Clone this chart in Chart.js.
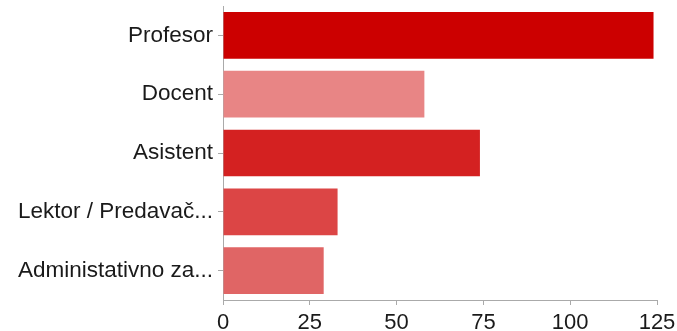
<!DOCTYPE html>
<html>
<head>
<meta charset="utf-8">
<script src="https://cdn.jsdelivr.net/npm/chart.js@4.4.1/dist/chart.umd.min.js"></script>
<style>
  html, body { margin: 0; padding: 0; background: #fff; }
  #wrap { width: 677px; height: 331px; position: relative; }
</style>
</head>
<body>
<div id="wrap"><canvas id="chart"></canvas></div>
<script>
// data
const categories = ['Profesor', 'Docent', 'Asistent', 'Lektor / Predavač...', 'Administativno za...'];
const counts = [124, 58, 74, 33, 29];
const barColors = ['#cc0000', '#e88585', '#d42121', '#dc4545', '#e06565'];
const xTicks = [0, 25, 50, 75, 100, 125];

const ctx = document.getElementById('chart').getContext('2d');

new Chart(ctx, {
  type: 'bar',
  data: {
    labels: categories,
    datasets: [{
      data: counts,
      backgroundColor: barColors,
      borderWidth: 0,
      barPercentage: 0.795,
      categoryPercentage: 1.0
    }]
  },
  options: {
    indexAxis: 'y',
    responsive: true,
    maintainAspectRatio: false,
    animation: false,
    layout: {
      padding: { top: 6, right: 20, left: 0, bottom: 0 }
    },
    plugins: {
      legend: { display: false },
      tooltip: { enabled: false }
    },
    scales: {
      x: {
        min: 0,
        max: 125,
        afterBuildTicks: function(scale) {
          scale.ticks = xTicks.map(v => ({ value: v }));
        },
        afterFit: function(scale) {
          scale.height = 31;
          scale.paddingLeft = 0;
          scale.paddingRight = 0;
        },
        border: { color: '#aaaaaa', width: 1 },
        grid: {
          drawOnChartArea: false,
          drawTicks: true,
          tickLength: 5,
          color: '#aaaaaa'
        },
        ticks: {
          color: '#1a1a1a',
          padding: 5,
          maxRotation: 0,
          font: { family: 'Liberation Sans', size: 22 }
        }
      },
      y: {
        afterFit: function(scale) {
          scale.width = 223;
          scale.paddingTop = 0;
          scale.paddingBottom = 0;
        },
        border: { color: '#aaaaaa', width: 1 },
        grid: {
          offset: false,
          drawOnChartArea: false,
          drawTicks: true,
          tickLength: 5,
          color: '#aaaaaa'
        },
        ticks: {
          color: '#1a1a1a',
          padding: 5,
          autoSkip: false,
          font: { family: 'Liberation Sans', size: 22.5 }
        }
      }
    }
  }
});
</script>
</body>
</html>
